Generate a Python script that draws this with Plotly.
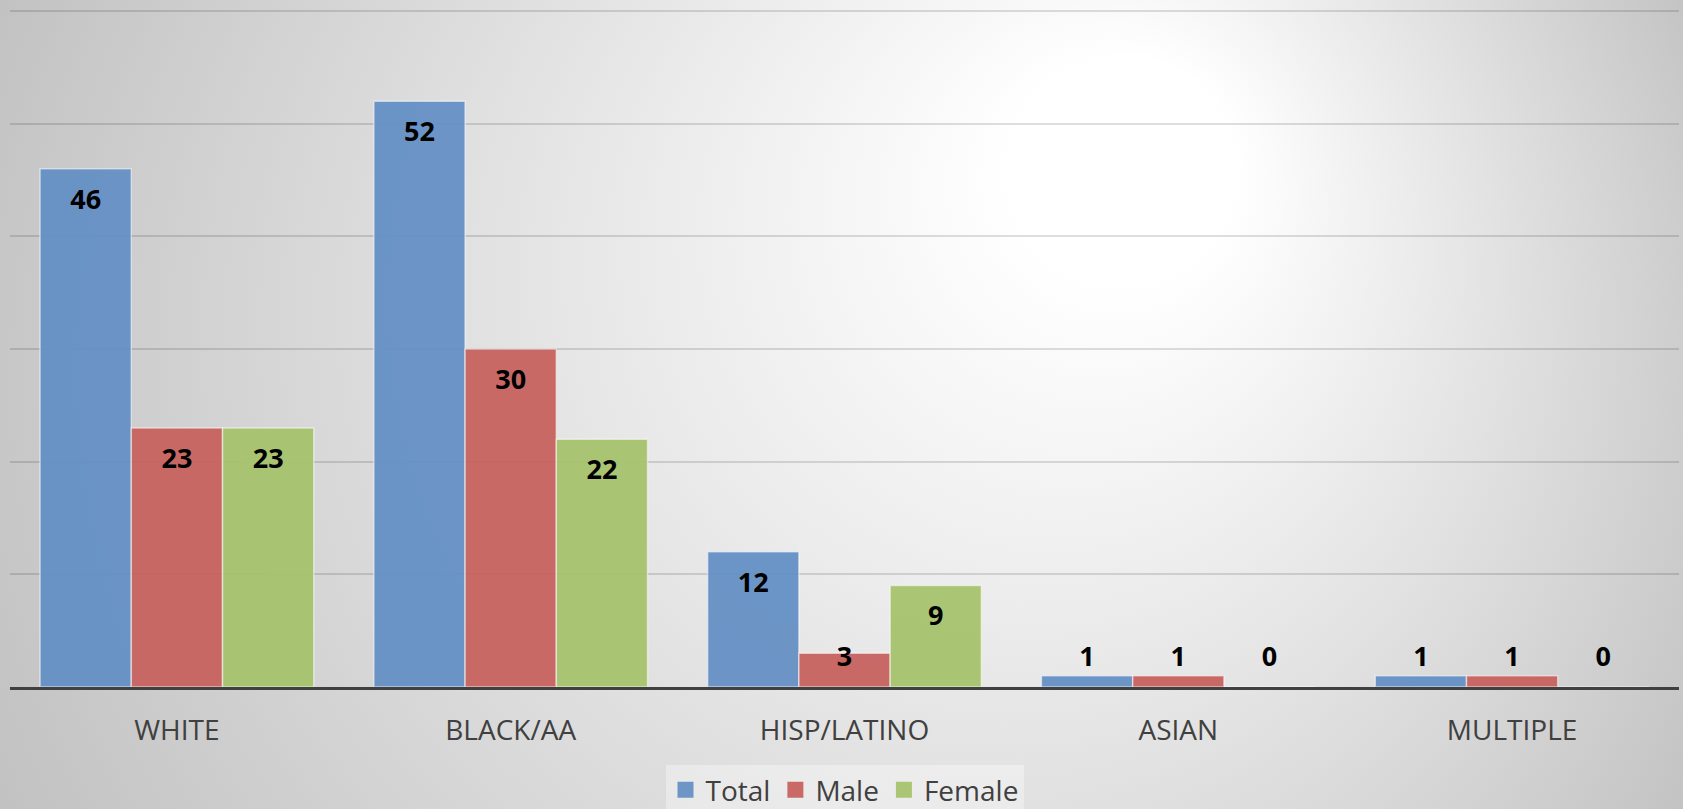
import plotly.graph_objects as go
from urllib.parse import quote

categories = ["WHITE", "BLACK/AA", "HISP/LATINO", "ASIAN", "MULTIPLE"]
total = [46, 52, 12, 1, 1]
male = [23, 30, 3, 1, 1]
female = [23, 22, 9, 0, 0]

series = [("Total", total, "#6590c5"),
          ("Male", male, "#c8625f"),
          ("Female", female, "#a6c36c")]

W, H = 1683, 809
ML, MR, MT, MB = 10, 4, 10, 122
pw, ph = W - ML - MR, H - MT - MB

# radial grey/white backdrop like the Office chart style
bg_svg = (
    f'<svg xmlns="http://www.w3.org/2000/svg" width="{W}" height="{H}">'
    '<defs><radialGradient id="g" gradientUnits="userSpaceOnUse" '
    'cx="850" cy="400" r="940" fx="1160" fy="140">'
    '<stop offset="0" stop-color="#ffffff"/>'
    '<stop offset="0.12" stop-color="#ffffff"/>'
    '<stop offset="1" stop-color="#c2c2c2"/>'
    '</radialGradient></defs>'
    f'<rect width="{W}" height="{H}" fill="url(#g)"/></svg>'
)
bg_src = "data:image/svg+xml;charset=utf-8," + quote(bg_svg)

fig = go.Figure()

for name, vals, color in series:
    fig.add_trace(go.Bar(
        name=name, x=categories, y=vals,
        offsetgroup=name, alignmentgroup="a",
        marker=dict(color=color, opacity=0.94,
                    line=dict(color="rgba(255,255,255,0.55)", width=1.5)),
        hoverinfo="x+y+name", showlegend=False,
    ))

# data labels: inside end, kept above the baseline for very short bars
for name, vals, color in series:
    fig.add_trace(go.Scatter(
        x=categories, y=[max(v - 2.93, 2.5) for v in vals],
        mode="text", text=[str(v) for v in vals],
        textfont=dict(family="Open Sans", size=27, color="#000000", weight="bold"),
        offsetgroup=name, alignmentgroup="a",
        showlegend=False, hoverinfo="skip", cliponaxis=False,
    ))

# legend entries with larger square swatches
for name, vals, color in series:
    fig.add_trace(go.Scatter(
        x=[None], y=[None], mode="markers", name=name,
        marker=dict(symbol="square", size=16, color=color, opacity=0.94),
    ))

fig.update_layout(
    width=W, height=H,
    margin=dict(l=ML, r=MR, t=MT, b=MB, autoexpand=False),
    barmode="group", bargap=0.18, bargroupgap=0,
    scattermode="group", scattergap=0.18,
    paper_bgcolor="rgba(0,0,0,0)", plot_bgcolor="rgba(0,0,0,0)",
    font=dict(family="Open Sans", color="#404040"),
    showlegend=True,
    legend=dict(orientation="h", x=0.5, xanchor="center",
                y=-(765 - (H - MB)) / ph, yanchor="top",
                bgcolor="rgba(255,255,255,0.35)",
                font=dict(size=28, color="#404040"),
                itemwidth=30, itemsizing="trace", traceorder="normal"),
    images=[dict(source=bg_src, xref="paper", yref="paper",
                 x=-ML / pw, y=1 + MT / ph, sizex=W / pw, sizey=H / ph,
                 xanchor="left", yanchor="top", sizing="stretch",
                 layer="below")],
)

fig.update_xaxes(showline=True, linecolor="#404040", linewidth=3,
                 tickfont=dict(size=28, color="#404040"),
                 ticks="", ticklabelstandoff=16, showgrid=False)
fig.update_yaxes(range=[0, 60.1], tickvals=[10, 20, 30, 40, 50, 60],
                 showticklabels=False,
                 showgrid=True, gridcolor="rgba(0,0,0,0.13)", gridwidth=2,
                 zeroline=False, showline=False)

fig.write_html("out.html", config={"displayModeBar": False},
               post_script="document.body.style.margin='0';")
